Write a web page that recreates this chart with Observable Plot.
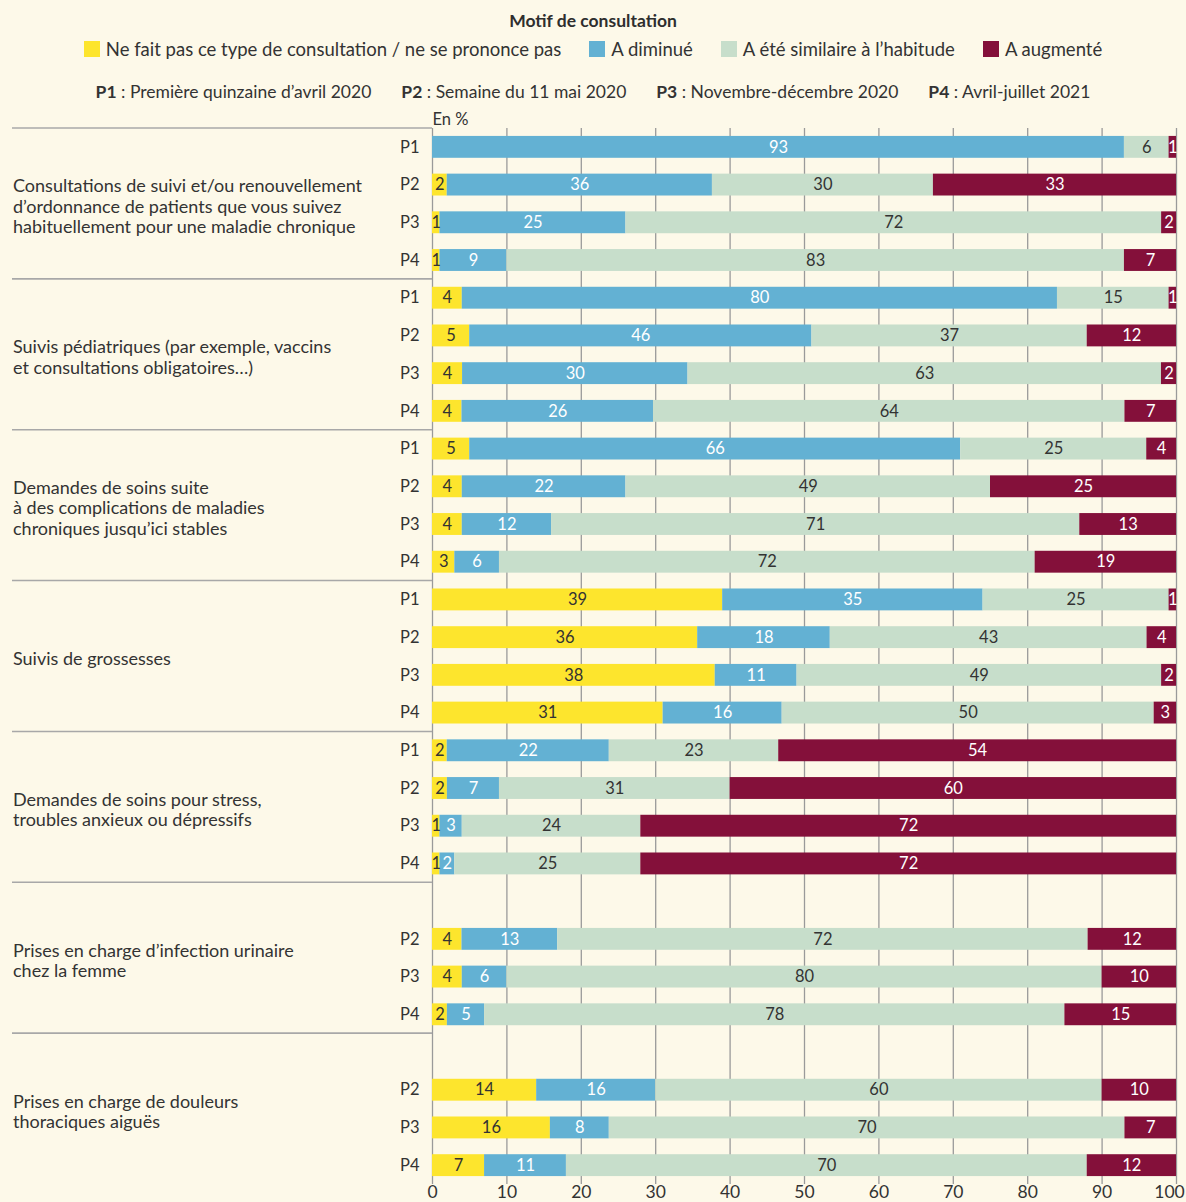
<!DOCTYPE html>
<html><head><meta charset="utf-8">
<script src="https://cdn.jsdelivr.net/npm/d3@7"></script>
<script src="https://cdn.jsdelivr.net/npm/@observablehq/plot@0.6"></script>
<style>
body{margin:0;background:#fdf9e9;font-family:Lato,"Noto Sans",sans-serif;color:#333;}
#wrap{position:relative;width:1186px;height:1202px;overflow:hidden;}
#header{position:relative;height:100px;}
.row{position:absolute;left:0;width:1186px;display:flex;justify-content:center;align-items:center;white-space:nowrap;}
#title{top:10px;font-size:17.5px;font-weight:700;color:#2e2e2e;}
#legend{top:38px;font-size:18.5px;}
#periods{top:81px;font-size:17.5px;}
.item{display:flex;align-items:center;margin:0 14px;}
.sw{width:16px;height:16px;margin-right:6px;display:inline-block;}
.per{margin:0 15px;}
.per b{font-weight:700;}
#chart svg{display:block;}
</style></head>
<body><div id="wrap">
<div id="header">
  <div class="row" id="title"></div>
  <div class="row" id="legend"></div>
  <div class="row" id="periods"></div>
</div>
<div id="chart"></div>
</div>
<script>
const legendTitle = "Motif de consultation";
const categories = ["Ne fait pas ce type de consultation / ne se prononce pas", "A diminué", "A été similaire à l’habitude", "A augmenté"];
const catColors = ["#fde52d", "#63b1d3", "#c7decb", "#84103a"];
const labelColors = ["#333333", "#ffffff", "#333333", "#ffffff"];
const periods = ["P1", "P2", "P3", "P4"];
const periodNames = ["Première quinzaine d’avril 2020", "Semaine du 11 mai 2020", "Novembre-décembre 2020", "Avril-juillet 2021"];
const groups = [
  "Consultations de suivi et/ou renouvellement\nd’ordonnance de patients que vous suivez\nhabituellement pour une maladie chronique",
  "Suivis pédiatriques (par exemple, vaccins\net consultations obligatoires…)",
  "Demandes de soins suite\nà des complications de maladies\nchroniques jusqu’ici stables",
  "Suivis de grossesses",
  "Demandes de soins pour stress,\ntroubles anxieux ou dépressifs",
  "Prises en charge d’infection urinaire\nchez la femme",
  "Prises en charge de douleurs\nthoraciques aiguës"
];
// values per group, per period P1..P4 (null = not asked)
const nePasFaire = [[0,2,1,1],[4,5,4,4],[5,4,4,3],[39,36,38,31],[2,2,1,1],[null,4,4,2],[null,14,16,7]];
const diminue    = [[93,36,25,9],[80,46,30,26],[66,22,12,6],[35,18,11,16],[22,7,3,2],[null,13,6,5],[null,16,8,11]];
const similaire  = [[6,30,72,83],[15,37,63,64],[25,49,71,72],[25,43,49,50],[23,31,24,25],[null,72,80,78],[null,60,70,70]];
const augmente   = [[1,33,2,7],[1,12,2,7],[4,25,13,19],[1,4,2,3],[54,60,72,72],[null,12,10,15],[null,10,7,12]];
const xTicks = [0,10,20,30,40,50,60,70,80,90,100];

// header
document.getElementById("title").textContent = legendTitle;
const leg = document.getElementById("legend");
categories.forEach((c, i) => {
  const it = document.createElement("span"); it.className = "item";
  const sw = document.createElement("span"); sw.className = "sw"; sw.style.background = catColors[i];
  it.appendChild(sw); it.appendChild(document.createTextNode(c)); leg.appendChild(it);
});
const per = document.getElementById("periods");
periods.forEach((p, i) => {
  const s = document.createElement("span"); s.className = "per";
  const b = document.createElement("b"); b.textContent = p;
  s.appendChild(b); s.appendChild(document.createTextNode(" : " + periodNames[i])); per.appendChild(s);
});

// data table
const series = [nePasFaire, diminue, similaire, augmente];
const keys = [];
const present = new Set();
const data = [];
groups.forEach((g, gi) => {
  periods.forEach((p, pi) => {
    const key = gi + "|" + p;
    keys.push(key);
    if (series[0][gi][pi] == null) return;
    present.add(key);
    series.forEach((s, ci) => data.push({key, cat: categories[ci], ci, value: s[gi][pi]}));
  });
});

function leftPanel(index, scales, values, dimensions) {
  const y = scales.y;
  const g = d3.create("svg:g");
  const step = y("0|P2") - y("0|P1");
  const bw = typeof y.bandwidth === "function" ? y.bandwidth() : step * 0.58;
  const pad = (step - bw) / 2;
  groups.forEach((label, gi) => {
    const top = y(gi + "|P1") - pad;
    const bottom = y(gi + "|P4") + bw + pad;
    g.append("line").attr("x1", 12).attr("x2", dimensions.marginLeft)
      .attr("y1", top).attr("y2", top).attr("stroke", "#a8a8a8").attr("stroke-width", 1.6);
    const lines = label.split("\n");
    const cy = (top + bottom) / 2 + 3;
    const lh = 20.5;
    const t = g.append("text").attr("fill", "#333").attr("font-size", 18)
      .attr("text-anchor", "start").attr("font-family", "Lato, sans-serif");
    lines.forEach((l, j) => {
      t.append("tspan").attr("x", 13)
        .attr("y", cy + (j - (lines.length - 1) / 2) * lh)
        .attr("dy", "0.35em").text(l);
    });
  });
  return g.node();
}

const stackOpts = (extra) => Plot.stackX({offset: "normalize", order: categories, x: "value", y: "key", z: "cat", ...extra});
const labelText = (white) => d => (d.value > 0 && (labelColors[d.ci] === "#ffffff") === white) ? d.value : null;
const axisOpts = {tickSize: 0, tickPadding: 1, tickFormat: d => Math.round(d * 100), fontSize: 17.5, fill: "#333", label: null};

const plot = Plot.plot({
  width: 1186, height: 1102,
  marginLeft: 432, marginRight: 10, marginTop: 28, marginBottom: 18,
  style: {background: "transparent", fontFamily: "Lato, sans-serif", fontSize: "16px", color: "#333"},
  x: {domain: [0, 1], label: null},
  y: {domain: keys, paddingInner: 0.42, paddingOuter: 0.21, round: false, label: null},
  color: {domain: categories, range: catColors},
  marks: [
    Plot.gridX(xTicks.map(d => d / 100), {stroke: "#9a9a9a", strokeOpacity: 1, strokeWidth: 1.3}),
    Plot.barX(data, stackOpts({fill: "cat"})),
    Plot.text(data, stackOpts({text: labelText(false), fill: labelColors[0], fontSize: 16.5})),
    Plot.text(data, stackOpts({text: labelText(true), fill: "#ffffff", fontSize: 16.5})),
    Plot.axisX(xTicks.slice(0, -1).map(d => d / 100), axisOpts),
    Plot.axisX(xTicks.slice(-1).map(d => d / 100), {...axisOpts, dx: -7}),
    Plot.axisY({tickSize: 0, tickPadding: 13, fontSize: 16.5, fill: "#333", tickFormat: k => present.has(k) ? k.split("|")[1] : ""}),
    Plot.text(["En %"], {frameAnchor: "top-left", lineAnchor: "middle", dy: -9, textAnchor: "start", fontSize: 16.5, fill: "#333"}),
    leftPanel
  ]
});
document.getElementById("chart").appendChild(plot);
</script>
</body></html>
